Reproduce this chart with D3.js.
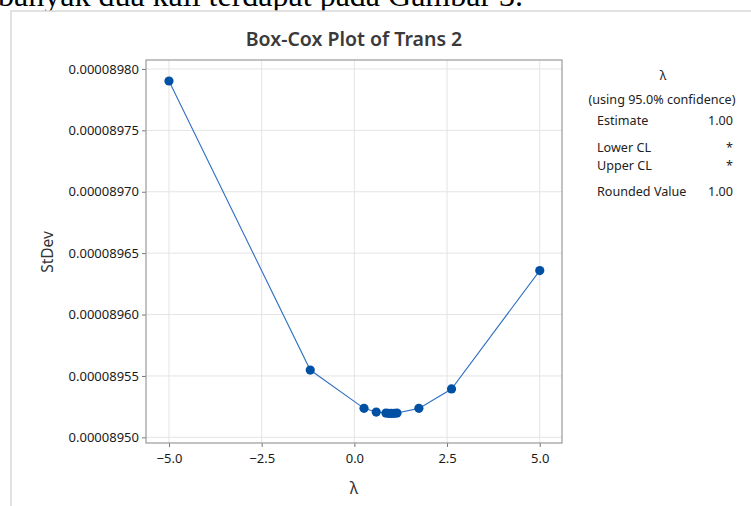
<!DOCTYPE html>
<html>
<head>
<meta charset="utf-8">
<script src="https://cdn.jsdelivr.net/npm/d3@7"></script>
<style>
  html, body { margin: 0; padding: 0; background: #fff; }
  svg { display: block; }
</style>
</head>
<body>
<svg id="chart" width="751" height="506"></svg>
<script>
// ---- data ----
const lambdas = [-5.0, -1.19, 0.26, 0.59, 0.85, 0.92, 1.0, 1.08, 1.15, 1.74, 2.62, 5.0];
const stdevs  = [0.0000897902, 0.0000895548, 0.0000895236, 0.0000895206, 0.0000895198, 0.0000895196,
                 0.0000895195, 0.0000895196, 0.0000895198, 0.0000895236, 0.0000895394, 0.0000896358];
const xTicks = [-5.0, -2.5, 0.0, 2.5, 5.0];
const yTicks = [0.00008950, 0.00008955, 0.00008960, 0.00008965, 0.00008970, 0.00008975, 0.00008980];
const titleText = "Box-Cox Plot of Trans 2";
const xLabel = "λ";
const yLabel = "StDev";
const legendHeader = ["λ", "(using 95.0% confidence)"];
const legendRows = [["Estimate", "1.00"], ["Lower CL", "*"], ["Upper CL", "*"], ["Rounded Value", "1.00"]];
const topText = "banyak dua kali terdapat pada Gambar 3.";

(function () {
const svg = d3.select("#chart");
const font = "'Noto Sans', 'Open Sans', sans-serif";

// page text above the figure (cut off at the top as in the reference)
svg.append("text").attr("x", -2).attr("y", 6)
  .attr("font-family", "'Liberation Serif', 'Times New Roman', serif")
  .attr("font-size", 32).attr("fill", "#000").text(topText);

// outer figure border
svg.append("rect").attr("x", 11).attr("y", 11).attr("width", 760).attr("height", 520)
  .attr("fill", "#fff").attr("stroke", "#d9d9d9").attr("stroke-width", 1.5);

const pL = 146, pR = 562, pT = 60, pB = 443;
const x = d3.scaleLinear().domain([-5.62, 5.60]).range([pL, pR]);
const y = d3.scaleLinear().domain([0.0000894954, 0.0000898073]).range([pB, pT]);

// gridlines
const g = svg.append("g");
g.selectAll(".vg").data(xTicks).join("line")
  .attr("x1", d => x(d)).attr("x2", d => x(d)).attr("y1", pT).attr("y2", pB)
  .attr("stroke", "#e4e4e4").attr("stroke-width", 1);
g.selectAll(".hg").data(yTicks).join("line")
  .attr("x1", pL).attr("x2", pR).attr("y1", d => y(d)).attr("y2", d => y(d))
  .attr("stroke", "#e4e4e4").attr("stroke-width", 1);

// axes
const xAxis = d3.axisBottom(x).tickValues(xTicks).tickFormat(d3.format(".1f")).tickSize(4).tickPadding(7);
const yAxis = d3.axisLeft(y).tickValues(yTicks).tickFormat(d3.format(".8f")).tickSize(4).tickPadding(3);
const gx = svg.append("g").attr("transform", `translate(0,${pB})`).call(xAxis);
const gy = svg.append("g").attr("transform", `translate(${pL},0)`).call(yAxis);
[gx, gy].forEach(a => {
  a.select(".domain").remove();
  a.selectAll(".tick line").attr("stroke", "#777");
  a.selectAll(".tick text").attr("font-family", font).attr("font-size", 13).attr("fill", "#1a1a1a");
});

// frame
svg.append("rect").attr("x", pL).attr("y", pT).attr("width", pR - pL).attr("height", pB - pT)
  .attr("fill", "none").attr("stroke", "#9a9a9a").attr("stroke-width", 1.2);

// line + points
const pts = lambdas.map((l, i) => [l, stdevs[i]]);
svg.append("path").datum(pts)
  .attr("d", d3.line().x(d => x(d[0])).y(d => y(d[1])))
  .attr("fill", "none").attr("stroke", "#2f70c2").attr("stroke-width", 1.1);
svg.selectAll(".pt").data(pts).join("circle")
  .attr("cx", d => x(d[0])).attr("cy", d => y(d[1])).attr("r", 4.6)
  .attr("fill", "#0050a4");

// titles
svg.append("text").attr("x", 354).attr("y", 46).attr("text-anchor", "middle")
  .attr("font-family", font).attr("font-size", 19.5).attr("font-weight", 600)
  .attr("fill", "#3a3a3a").text(titleText);
svg.append("text").attr("x", 354).attr("y", 494).attr("text-anchor", "middle")
  .attr("font-family", font).attr("font-size", 16).attr("fill", "#333").text(xLabel);
svg.append("text").attr("transform", "translate(53,252) rotate(-90)").attr("text-anchor", "middle")
  .attr("font-family", font).attr("font-size", 15.5).attr("fill", "#333").text(yLabel);

// legend panel
const lg = svg.append("g").attr("font-family", font).attr("font-size", 12.6).attr("fill", "#222");
lg.append("text").attr("x", 663).attr("y", 80).attr("text-anchor", "middle").text(legendHeader[0]);
lg.append("text").attr("x", 662).attr("y", 104).attr("text-anchor", "middle").text(legendHeader[1]);
const rowY = [125, 152, 170, 196];
legendRows.forEach((r, i) => {
  lg.append("text").attr("x", 597).attr("y", rowY[i]).text(r[0]);
  lg.append("text").attr("x", 733).attr("y", rowY[i]).attr("text-anchor", "end").text(r[1]);
});
})();
</script>
</body>
</html>
